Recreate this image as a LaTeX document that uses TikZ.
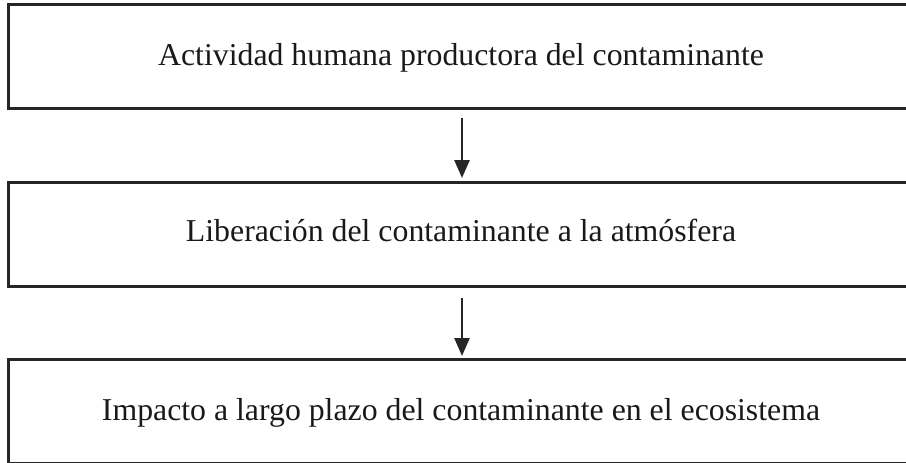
\documentclass[tikz,border=0pt]{standalone}
\usepackage{fontspec}
\setmainfont{Liberation Serif}
\usetikzlibrary{arrows.meta}
\begin{document}
\begin{tikzpicture}[x=1pt,y=-1pt,
  stagebox/.style={draw=black!85,line width=3pt,minimum width=903pt,minimum height=104pt,inner sep=0pt,anchor=north west},
  lbl/.style={font=\fontsize{31.8}{38}\selectfont,text=black!90,anchor=base,inner sep=0pt},
  arr/.style={draw=black!85,line width=2.6pt,-{Triangle[length=18pt,width=15pt]}}]
\useasboundingbox (0,0) rectangle (906,463);
\node[stagebox] (b1) at (7,3) {};
\node[stagebox] (b2) at (7,181) {};
\node[stagebox] (b3) at (7,358) {};
\node[lbl] (t1) at (461,65) {Actividad humana productora del contaminante};
\node[lbl] (t2) at (461,241) {Liberación del contaminante a la atmósfera};
\node[lbl] (t3) at (461,420) {Impacto a largo plazo del contaminante en el ecosistema};
\coordinate (ax) at (462,0);
\draw[arr,shorten <=8pt,shorten >=3pt] (b1.south -| ax) -- (b2.north -| ax);
\draw[arr,shorten <=10pt,shorten >=2pt] (b2.south -| ax) -- (b3.north -| ax);
\end{tikzpicture}
\end{document}
